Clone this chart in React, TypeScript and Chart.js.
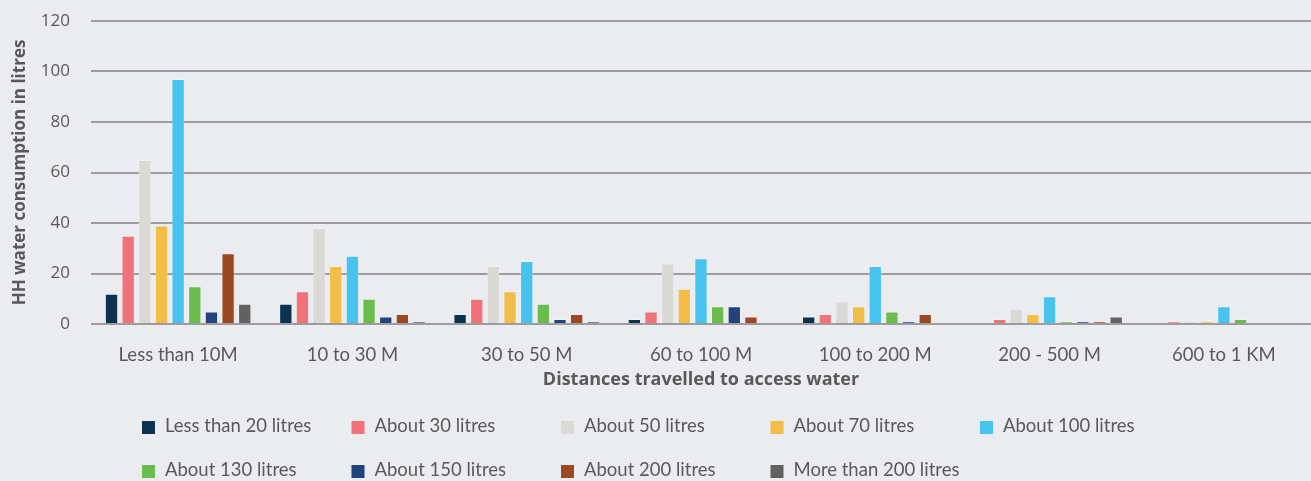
import React, { useEffect, useRef } from 'react';
import { Chart, registerables } from 'chart.js';

Chart.register(...registerables);

const categories = ['Less than 10M', '10 to 30 M', '30 to 50 M', '60 to 100 M', '100 to 200 M', '200 - 500 M', '600 to 1 KM'];

const seriesNames = [
  'Less than 20 litres',
  'About 30 litres',
  'About 50 litres',
  'About 70 litres',
  'About 100 litres',
  'About 130 litres',
  'About 150 litres',
  'About 200 litres',
  'More than 200 litres',
];

const lessThan20 = [12, 8, 4, 2, 3, 0, 0];
const about30 = [35, 13, 10, 5, 4, 2, 1];
const about50 = [65, 38, 23, 24, 9, 6, 1];
const about70 = [39, 23, 13, 14, 7, 4, 1];
const about100 = [97, 27, 25, 26, 23, 11, 7];
const about130 = [15, 10, 8, 7, 5, 1, 2];
const about150 = [5, 3, 2, 7, 1, 1, 0];
const about200 = [28, 4, 4, 3, 4, 1, 0];
const moreThan200 = [8, 1, 1, 0, 0, 3, 0];

const seriesValues = [lessThan20, about30, about50, about70, about100, about130, about150, about200, moreThan200];

const seriesColors = ['#0B3350', '#F2727A', '#DAD9D5', '#F2BE47', '#48C3F0', '#6ABD4C', '#22437C', '#9C4822', '#616161'];

const yTicks = [0, 20, 40, 60, 80, 100, 120];

const TEXT = '#595959';
const BG = '#EBECF0';

const legendPlugin = {
  id: 'gridLegend',
  afterDraw(chart: any) {
    const ctx = chart.ctx;
    ctx.save();
    ctx.font = '18.5px Lato';
    ctx.textBaseline = 'middle';
    ctx.textAlign = 'left';
    chart.data.datasets.forEach((ds: any, i: number) => {
      const row = i < 5 ? 0 : 1;
      const col = i < 5 ? i : i - 5;
      const x = 142 + col * 209.5;
      const y = 426 + row * 44;
      ctx.fillStyle = ds.backgroundColor;
      ctx.fillRect(x, y - 5, 13, 13);
      ctx.fillStyle = TEXT;
      ctx.fillText(ds.label, x + 23, y);
    });
    ctx.restore();
  },
};

export default function App() {
  const ref = useRef<HTMLCanvasElement>(null);

  useEffect(() => {
    document.body.style.margin = '0';
    document.body.style.background = BG;
    const chart = new Chart(ref.current!, {
      type: 'bar',
      data: {
        labels: categories,
        datasets: seriesNames.map((name, i) => ({
          label: name,
          data: seriesValues[i],
          backgroundColor: seriesColors[i],
          borderColor: 'rgba(255,255,255,0.25)',
          borderWidth: 1,
          categoryPercentage: 0.86,
          barPercentage: 0.8,
        })),
      },
      options: {
        responsive: false,
        animation: false,
        layout: { padding: { top: 21, bottom: 90, left: 0, right: 0 } },
        plugins: {
          legend: { display: false },
          tooltip: { enabled: false },
        },
        scales: {
          x: {
            grid: { display: false, drawTicks: false },
            border: { display: false },
            ticks: { color: TEXT, font: { family: 'Lato', size: 18.5 }, padding: 20, maxRotation: 0 },
            title: {
              display: true,
              text: 'Distances travelled to access water',
              color: TEXT,
              font: { family: 'Open Sans', size: 18, weight: 'bold' },
              padding: { top: 0, bottom: 0 },
            },
            afterFit: (s: any) => { s.height = 67; },
          },
          y: {
            min: 0,
            max: 120,
            afterBuildTicks: (s: any) => { s.ticks = yTicks.map((v) => ({ value: v })); },
            grid: { color: '#9C9C9F', lineWidth: 2, drawTicks: false },
            border: { display: false },
            ticks: { color: TEXT, font: { family: 'Open Sans', size: 17 }, padding: 21 },
            title: {
              display: true,
              text: 'HH water consumption in litres',
              color: TEXT,
              font: { family: 'Open Sans', size: 17, weight: 'bold' },
              padding: { top: 10, bottom: 0 },
            },
            afterFit: (s: any) => {
              s.width = 91;
              s.paddingTop = 0;
              s.paddingBottom = 0;
            },
          },
        },
      },
      plugins: [legendPlugin],
    });
    return () => chart.destroy();
  }, []);

  return (
    <div style={{ width: 1311, height: 481, background: BG }}>
      <canvas ref={ref} width={1311} height={481} style={{ display: 'block' }} />
    </div>
  );
}
